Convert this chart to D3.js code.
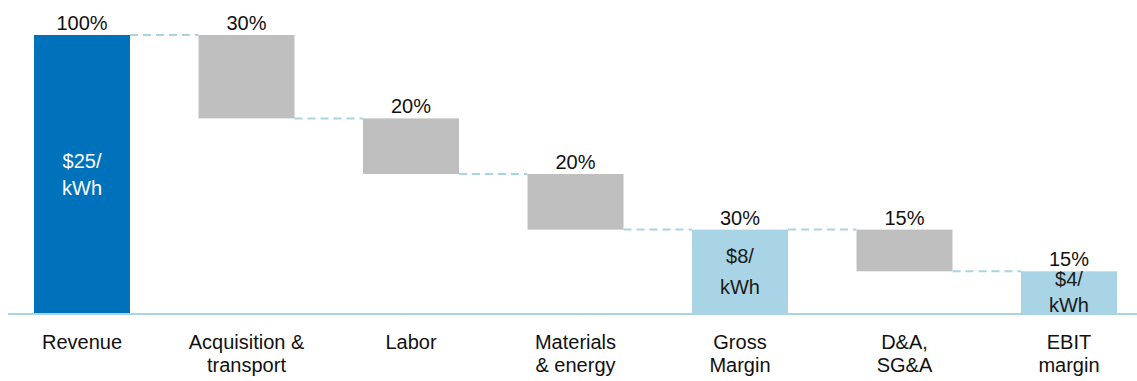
<!DOCTYPE html>
<html>
<head>
<meta charset="utf-8">
<script src="https://cdn.jsdelivr.net/npm/d3@7"></script>
<style>
  body { margin: 0; background: #fff; }
  svg text { font-family: "Liberation Sans", Arial, sans-serif; }
</style>
</head>
<body>
<svg id="chart" width="1137" height="381"></svg>
<script>
var categories = ["Revenue", "Acquisition &\ntransport", "Labor", "Materials\n& energy", "Gross\nMargin", "D&A,\nSG&A", "EBIT\nmargin"];
var values = [100, -30, -20, -20, 30, -15, 15];
var kinds = ["total", "step", "step", "step", "subtotal", "step", "subtotal"];
var pctLabels = ["100%", "30%", "20%", "20%", "30%", "15%", "15%"];
var innerLabels = ["$25/\nkWh", "", "", "", "$8/\nkWh", "", "$4/\nkWh"];

var svg = d3.select("#chart");
var width = 1137, height = 381;
var baseY = 313, topY = 35;

var fills = { total: "#0072bc", step: "#bfbfbf", subtotal: "#a9d4e5" };
var innerColor = { total: "#ffffff", subtotal: "#1a1a1a" };

// running levels
var bars = [];
var level = 0;
values.forEach(function (v, i) {
  var lo, hi;
  if (kinds[i] === "step") {
    hi = level; lo = level + v; level = lo;
  } else {
    lo = 0; hi = v; level = v;
  }
  bars.push({ name: categories[i], lo: lo, hi: hi, kind: kinds[i], pct: pctLabels[i], inner: innerLabels[i] });
});

var x = d3.scaleBand()
  .domain(categories)
  .range([34, 1117])
  .paddingInner(0.4164)
  .paddingOuter(0);

var y = d3.scaleLinear().domain([0, 100]).range([baseY, topY]);

// connectors
for (var i = 0; i < bars.length - 1; i++) {
  var lvl = bars[i].kind === "step" ? bars[i].lo : bars[i].hi;
  svg.append("line")
    .attr("x1", x(bars[i].name) + x.bandwidth())
    .attr("x2", x(bars[i + 1].name))
    .attr("y1", y(lvl))
    .attr("y2", y(lvl))
    .attr("stroke", "#a9d4e5")
    .attr("stroke-width", 2)
    .attr("stroke-dasharray", "8,5");
}

svg.selectAll("rect.bar")
  .data(bars)
  .enter()
  .append("rect")
  .attr("class", "bar")
  .attr("x", function (d) { return x(d.name); })
  .attr("y", function (d) { return y(d.hi); })
  .attr("width", x.bandwidth())
  .attr("height", function (d) { return y(d.lo) - y(d.hi); })
  .attr("fill", function (d) { return fills[d.kind]; });

// baseline
svg.append("line")
  .attr("x1", 8).attr("x2", width)
  .attr("y1", baseY + 1).attr("y2", baseY + 1)
  .attr("stroke", "#a9d4e5")
  .attr("stroke-width", 2);

// percent labels
svg.selectAll("text.pct")
  .data(bars)
  .enter()
  .append("text")
  .attr("class", "pct")
  .attr("x", function (d) { return x(d.name) + x.bandwidth() / 2; })
  .attr("y", function (d) { return y(d.hi) - 5; })
  .attr("text-anchor", "middle")
  .style("font-size", "20px")
  .style("fill", "#111")
  .text(function (d) { return d.pct; });

// inner labels
bars.forEach(function (d) {
  if (!d.inner) return;
  var lines = d.inner.split("\n");
  var mid = (y(d.lo) + y(d.hi)) / 2;
  var lh = d.kind === "total" ? 27 : (y(d.lo) - y(d.hi) < 60 ? 26 : 31);
  var t = svg.append("text")
    .attr("text-anchor", "middle")
    .style("font-size", "20px")
    .style("fill", innerColor[d.kind]);
  lines.forEach(function (ln, k) {
    t.append("tspan")
      .attr("x", x(d.name) + x.bandwidth() / 2)
      .attr("y", mid + 7 + (k - (lines.length - 1) / 2) * lh)
      .text(ln);
  });
});

// category labels
bars.forEach(function (d) {
  var lines = d.name.split("\n");
  var t = svg.append("text")
    .attr("text-anchor", "middle")
    .style("font-size", "20px")
    .style("fill", "#111");
  lines.forEach(function (ln, k) {
    t.append("tspan")
      .attr("x", x(d.name) + x.bandwidth() / 2)
      .attr("y", 349 + k * 23)
      .text(ln);
  });
});
</script>
</body>
</html>
